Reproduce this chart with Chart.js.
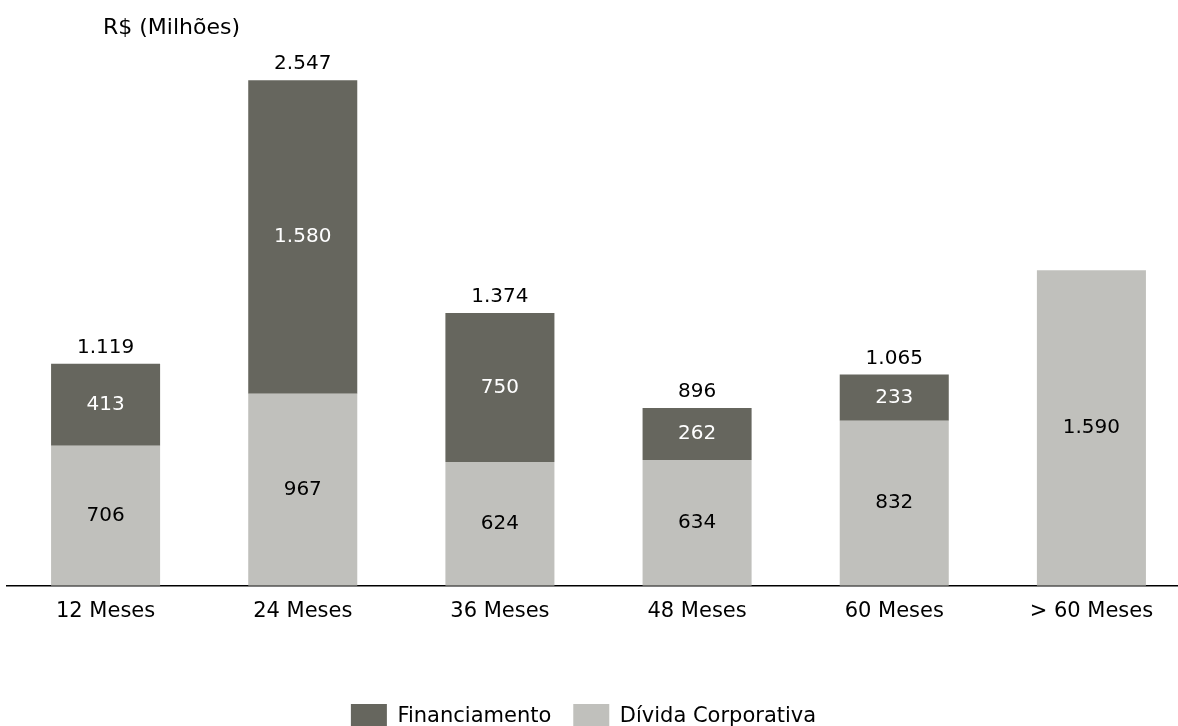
<!DOCTYPE html>
<html>
<head>
<meta charset="utf-8">
<script src="https://cdn.jsdelivr.net/npm/chart.js@4/dist/chart.umd.min.js"></script>
<style>
  html, body { margin: 0; padding: 0; background: #fff; overflow: hidden; }
  #wrap { width: 1190px; height: 740px; }
</style>
</head>
<body>
<div id="wrap"><canvas id="chart" width="1190" height="740"></canvas></div>
<script>
const categories = ["12 Meses", "24 Meses", "36 Meses", "48 Meses", "60 Meses", "> 60 Meses"];
const financiamento = [413, 1580, 750, 262, 233, null];
const dividaCorporativa = [706, 967, 624, 634, 832, 1590];
const totais = [1119, 2547, 1374, 896, 1065, null];
const unidade = "R$ (Milhões)";

const FONT = "'DejaVu Sans', Verdana, sans-serif";
const fmt = (v) => String(v).replace(/\B(?=(\d{3})+(?!\d))/g, ".");

// labels inside the bars and totals above them
const valueLabels = {
  id: "valueLabels",
  afterLayout(chart) {
    // legend sits a little left of the canvas centre in the original
    chart.legend.left -= 15;
    chart.legend.right -= 15;
  },
  afterDatasetsDraw(chart) {
    const ctx = chart.ctx;
    ctx.save();
    ctx.font = "20px " + FONT;
    ctx.textAlign = "center";
    chart.data.datasets.forEach((ds, i) => {
      const meta = chart.getDatasetMeta(i);
      meta.data.forEach((bar, j) => {
        const v = ds.data[j];
        if (v == null) return;
        ctx.fillStyle = ds.labelColor;
        ctx.textBaseline = "middle";
        ctx.fillText(fmt(v), bar.x, (bar.y + bar.base) / 2);
      });
    });
    const y = chart.scales.y;
    const x = chart.scales.x;
    ctx.fillStyle = "#000";
    ctx.textBaseline = "bottom";
    totais.forEach((t, j) => {
      if (t == null) return;
      ctx.fillText(fmt(t), x.getPixelForValue(j), y.getPixelForValue(t) - 6);
    });
    // unit caption
    ctx.font = "22px " + FONT;
    ctx.textAlign = "left";
    ctx.textBaseline = "middle";
    ctx.fillText(unidade, 103, 28);
    ctx.restore();
  }
};

new Chart(document.getElementById("chart"), {
  type: "bar",
  data: {
    labels: categories,
    datasets: [
      {
        label: "Dívida Corporativa",
        data: dividaCorporativa,
        backgroundColor: "#c0c0bc",
        labelColor: "#000",
        barPercentage: 0.553,
        categoryPercentage: 1.0
      },
      {
        label: "Financiamento",
        data: financiamento,
        backgroundColor: "#66665e",
        labelColor: "#fff",
        barPercentage: 0.553,
        categoryPercentage: 1.0
      }
    ]
  },
  options: {
    responsive: false,
    animation: false,
    layout: { padding: { top: 30, left: 7, right: 0, bottom: 0 } },
    scales: {
      x: {
        stacked: true,
        grid: { display: false },
        border: { display: true, color: "#000", width: 1.5 },
        ticks: { color: "#000", font: { family: FONT, size: 21 }, padding: 5 },
        afterFit(scale) { scale.height += 53; }
      },
      y: {
        stacked: true,
        display: false,
        min: 0,
        max: 2800
      }
    },
    plugins: {
      tooltip: { enabled: false },
      legend: {
        position: "bottom",
        reverse: true,
        labels: {
          color: "#000",
          boxWidth: 36,
          boxHeight: 26,
          padding: 22,
          font: { family: FONT, size: 21 }
        }
      }
    }
  },
  plugins: [valueLabels]
});
</script>
</body>
</html>
